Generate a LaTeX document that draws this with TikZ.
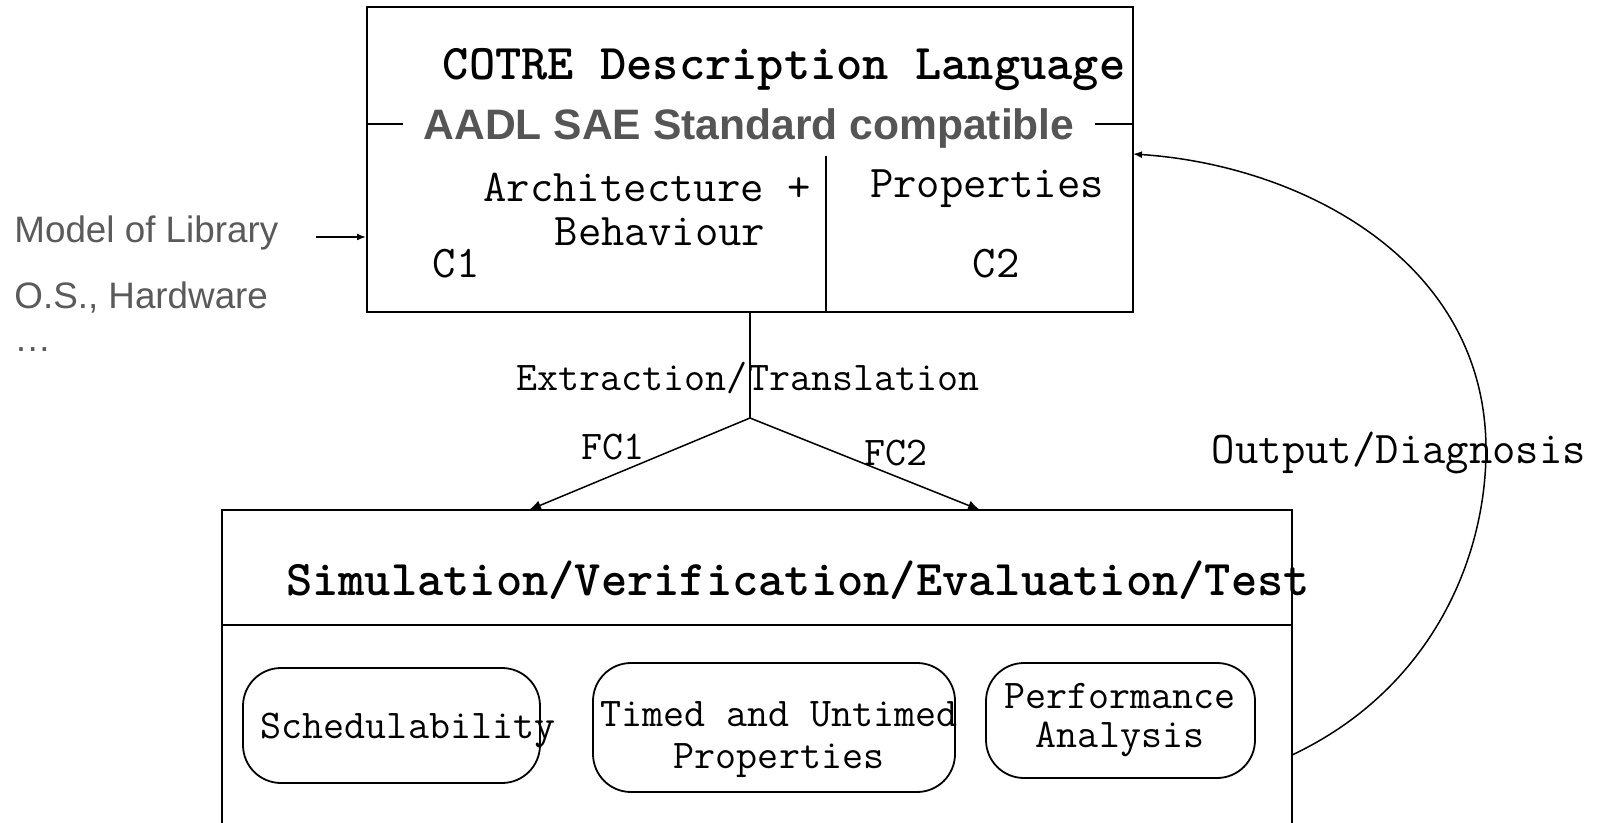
\documentclass[tikz,border=0pt]{standalone}
\usepackage{fontspec}
\setsansfont{Liberation Sans}
\usetikzlibrary{arrows.meta}
\definecolor{labelgrey}{HTML}{555555}
\definecolor{sidegrey}{HTML}{5A5A5A}
\tikzset{
  box/.style={draw, line width=1pt, inner sep=0pt},
  rule/.style={line width=1pt},
  pill/.style={draw, line width=0.9pt, rounded corners=19pt, inner sep=0pt},
  conn/.style={line width=0.75pt},
  arr/.style={conn, -{Latex[length=6pt,width=5pt]}},
  smallarr/.style={conn, -{Latex[length=4.5pt,width=3.5pt]}},
  mono/.style={font=\fontsize{22.7}{26}\selectfont\ttfamily, inner sep=0pt},
  monosmall/.style={font=\fontsize{20.4}{21}\selectfont\ttfamily, inner sep=0pt, align=center},
  monobold/.style={font=\fontsize{25}{28}\selectfont\ttfamily\bfseries, inner sep=0pt},
  sidetext/.style={font=\fontsize{18.4}{22}\selectfont\sffamily, text=sidegrey, inner sep=0pt, anchor=base west},
}
\begin{document}
\begin{tikzpicture}[x=0.5pt,y=-0.5pt]
\useasboundingbox (0,0) rectangle (1610,823);
\clip (0,0) rectangle (1610,823);

% description language block
\node[box, minimum width=383pt, minimum height=152.5pt] (cotre) at (750,159.5) {};
\node[monobold] (cotretitle) at (784,70) {COTRE Description Language};
\draw[rule] (cotre.west |- 0,124) -- (cotre.east |- 0,124);
\node[fill=white, inner xsep=10.5pt, inner ysep=0pt, text=labelgrey,
      font=\fontsize{21.3}{25}\selectfont\sffamily\bfseries] (aadl) at (749,128) {AADL SAE Standard compatible};
\coordinate (divtop) at (826,156);
\draw[rule] (divtop) -- (divtop |- cotre.south);
\node[mono] (arch) at (647,187) {Architecture +};
\node[mono] (behav) at (660,232) {Behaviour};
\node[mono] (c1) at (456,264) {C1};
\node[mono] (props) at (987,189) {Properties};
\node[mono] (c2) at (996,264) {C2};

% external library inputs
\node[sidetext] (lib) at (14,243) {Model of Library};
\node[sidetext] (oshw) at (14,309) {O.S., Hardware};
\node[sidetext] (more) at (14,351) {…};
\coordinate (libsrc) at (316,237);
\draw[smallarr] (libsrc) -- (libsrc -| cotre.west);

% analysis block
\node[box, minimum width=535pt, minimum height=175pt] (sim) at (757,685) {};
\node[monobold] (simtitle) at (798,580) {Simulation/Verification/Evaluation/Test};
\draw[rule] (sim.west |- 0,625) -- (sim.east |- 0,625);

\node[pill, minimum width=148.5pt, minimum height=57.5pt] (sched) at (391.5,725.5) {};
\node[monosmall] (schedtext) at (408,730) {Schedulability};
\node[pill, minimum width=181pt, minimum height=64.5pt] (timed) at (774,727.5) {};
\node[monosmall] (timedtext) at (779,740) {Timed and Untimed\\Properties};
\node[pill, minimum width=134.5pt, minimum height=57.5pt] (perf) at (1120.5,720.5) {};
\node[monosmall, font=\fontsize{20.4}{19.5}\selectfont\ttfamily] (perftext) at (1120,720.5) {Performance\\Analysis};

% extraction / translation
\coordinate (split) at (750,418);
\coordinate (fc1end) at (529,510);
\coordinate (fc2end) at (980,510);
\draw[conn] (cotre.south) -- (split);
\draw[arr] (split) -- (fc1end);
\draw[arr] (split) -- (fc2end);
\node[monosmall] (extr) at (748,378) {Extraction/Translation};
\node[monosmall] (fc1) at (613,447) {FC1};
\node[monosmall] (fc2) at (896,453) {FC2};

% feedback loop
\coordinate (outsrc) at (1292,755);
\coordinate (outdst) at (1133,154);
\draw[smallarr] (outsrc) .. controls (1430,690) and (1486,560) .. (1486,450)
                .. controls (1486,260) and (1300,165) .. (outdst);
\node[mono] (diag) at (1399,453) {Output/Diagnosis};
\end{tikzpicture}
\end{document}
